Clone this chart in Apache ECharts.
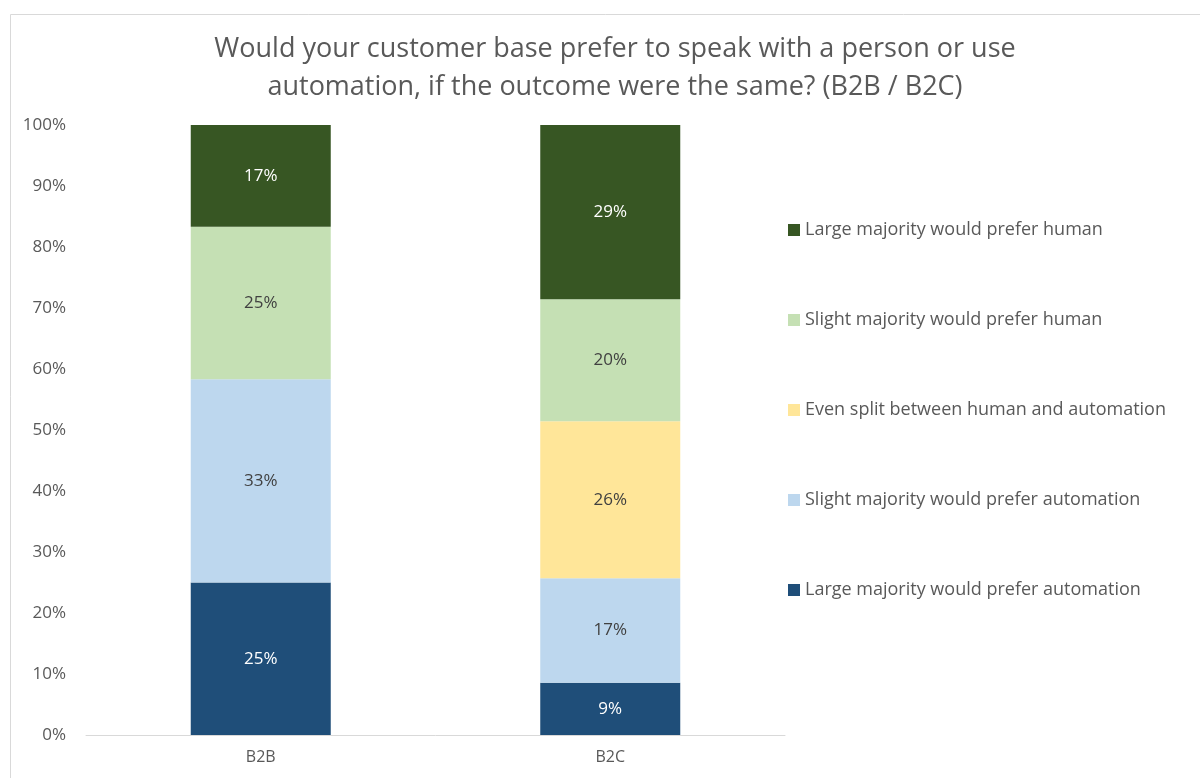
<!DOCTYPE html>
<html>
<head>
<meta charset="utf-8">
<script src="https://cdn.jsdelivr.net/npm/echarts@6/dist/echarts.min.js"></script>
<style>html,body{margin:0;padding:0;background:#fff}#c{width:1200px;height:778px}</style>
</head>
<body>
<div id="c"></div>
<script>
const categories = ['B2B', 'B2C'];
const seriesNames = [
  'Large majority would prefer automation',
  'Slight majority would prefer automation',
  'Even split between human and automation',
  'Slight majority would prefer human',
  'Large majority would prefer human'
];
const largeAutomation = [25, 8.57];
const slightAutomation = [33.33, 17.14];
const evenSplit = [0, 25.71];
const slightHuman = [25, 20];
const largeHuman = [16.67, 28.57];
const yTicks = [0, 10, 20, 30, 40, 50, 60, 70, 80, 90, 100];

const values = [largeAutomation, slightAutomation, evenSplit, slightHuman, largeHuman];
const colors = ['#1f4e79', '#bdd7ee', '#ffe699', '#c5e0b4', '#375623'];
const labelColors = ['#ffffff', '#404040', '#404040', '#404040', '#ffffff'];
const font = '"Open Sans", "Liberation Sans", sans-serif';

const chart = echarts.init(document.getElementById('c'));
chart.setOption({
  animation: false,
  textStyle: { fontFamily: font },
  graphic: [{
    type: 'rect', left: 8, top: 12, silent: true,
    shape: { width: 1200, height: 780 },
    style: { fill: 'none', stroke: '#d9d9d9', lineWidth: 1 }
  }],
  title: {
    text: 'Would your customer base prefer to speak with a person or use\nautomation, if the outcome were the same? (B2B / B2C)',
    left: 610, textAlign: 'center', top: 25,
    textStyle: { color: '#595959', fontSize: 27, fontWeight: 'normal', lineHeight: 38, fontFamily: font }
  },
  legend: {
    orient: 'vertical', left: 788, top: 221, padding: 0,
    itemWidth: 12, itemHeight: 12, itemGap: 72,
    data: seriesNames.slice().reverse(),
    textStyle: { color: '#595959', fontSize: 18, fontFamily: font },
    icon: 'rect'
  },
  grid: { left: 86, right: 415, top: 125, bottom: 43 },
  xAxis: {
    type: 'category', data: categories,
    axisLine: { lineStyle: { color: '#d9d9d9', width: 1 } },
    axisTick: { show: false },
    axisLabel: { color: '#595959', fontSize: 16, margin: 14, fontFamily: font }
  },
  yAxis: {
    type: 'value', min: 0, max: 100, interval: 10,
    axisLabel: { color: '#595959', fontSize: 17, margin: 20, formatter: '{value}%', fontFamily: font },
    splitLine: { show: false },
    axisLine: { show: false }, axisTick: { show: false }
  },
  series: seriesNames.map((n, i) => ({
    name: n, type: 'bar', stack: 'total',
    barWidth: 140,
    data: values[i],
    itemStyle: { color: colors[i] },
    label: {
      show: true, position: 'inside', color: labelColors[i], fontSize: 17, fontFamily: font,
      formatter: p => p.value > 0 ? Math.round(p.value) + '%' : ''
    }
  }))
});
</script>
</body>
</html>
